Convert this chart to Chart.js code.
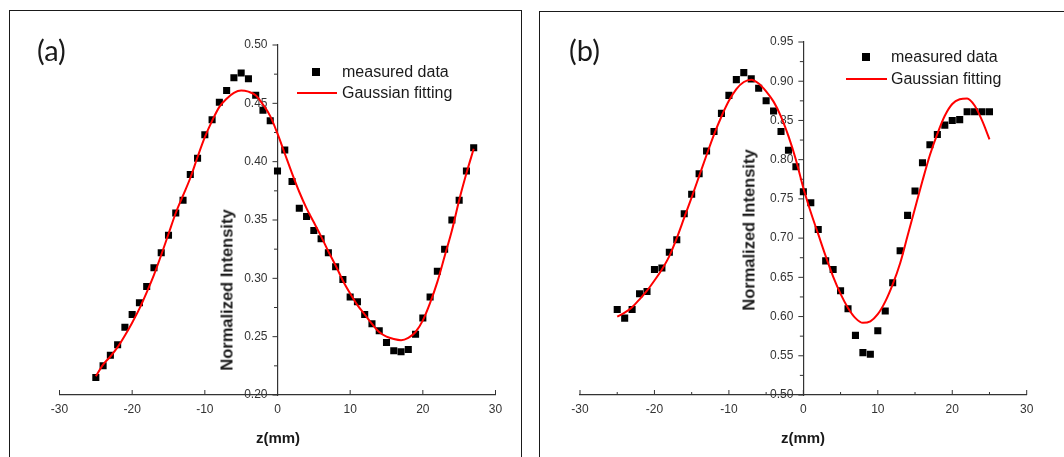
<!DOCTYPE html>
<html>
<head>
<meta charset="utf-8">
<script src="https://cdn.jsdelivr.net/npm/chart.js@4.4.1/dist/chart.umd.min.js"></script>
<style>
  body { margin: 0; background: #fff; }
  #wrap { position: relative; width: 1064px; height: 457px; overflow: hidden; font-family: "Liberation Sans", Arial, sans-serif; color: #1a1a1a; }
  .panel { position: absolute; border: 1.5px solid #1a1a1a; }
  canvas { position: absolute; top: 0; }
  .tag { position: absolute; font-family: Lato, "Open Sans", sans-serif; font-size: 29px; line-height: 1; }
  .ytitle { position: absolute; font-weight: bold; font-size: 16.5px; white-space: nowrap; transform: translate(-50%, -50%) rotate(-90deg); }
  .xtitle { position: absolute; font-weight: bold; font-size: 15px; white-space: nowrap; transform: translate(-50%, -50%); }
  .leg { position: absolute; font-size: 16px; line-height: 18px; white-space: nowrap; }
  .sq { position: absolute; width: 8px; height: 8px; background: #000; }
  .ln { position: absolute; height: 2px; background: #ff0000; }
</style>
</head>
<body>
<div id="wrap">
  <div class="panel" style="left:9px; top:10px; width:511px; height:470px;"></div>
  <div class="panel" style="left:539px; top:11px; width:560px; height:470px;"></div>

  <canvas id="chartA" width="532" height="457" style="left:0;"></canvas>
  <canvas id="chartB" width="532" height="457" style="left:532px;"></canvas>

  <div class="tag" style="left:37px; top:35px;">(a)</div>
  <div class="tag" style="left:569px; top:35px;">(b)</div>

  <div class="ytitle" style="left:227px; top:290px;">Normalized Intensity</div>
  <div class="ytitle" style="left:749px; top:230px;">Normalized Intensity</div>
  <div class="xtitle" style="left:278px; top:437px;">z(mm)</div>
  <div class="xtitle" style="left:803px; top:437px;">z(mm)</div>

  <!-- legends -->
  <div class="sq" style="left:312px; top:68px;"></div>
  <div class="leg" style="left:342px; top:63px;">measured data</div>
  <div class="ln" style="left:297px; top:92px; width:40px;"></div>
  <div class="leg" style="left:342px; top:84px;">Gaussian fitting</div>

  <div class="sq" style="left:862px; top:53px;"></div>
  <div class="leg" style="left:891px; top:48px;">measured data</div>
  <div class="ln" style="left:846px; top:78px; width:41px;"></div>
  <div class="leg" style="left:891px; top:70px;">Gaussian fitting</div>
</div>

<script>
// panel (a)
const zA = [-25, -24, -23, -22, -21, -20, -19, -18, -17, -16, -15, -14, -13, -12, -11, -10, -9, -8, -7, -6, -5, -4, -3, -2, -1,
  0, 1, 2, 3, 4, 5, 6, 7, 8, 9, 10, 11, 12, 13, 14, 15, 16, 17, 18, 19, 20, 21, 22, 23, 24, 25, 26, 27];
const measuredA = [0.215, 0.225, 0.234, 0.243, 0.258, 0.269, 0.279, 0.293, 0.309, 0.322, 0.337, 0.356, 0.367, 0.389, 0.403,
  0.423, 0.436, 0.451, 0.461, 0.472, 0.476, 0.471, 0.457, 0.444, 0.435, 0.392, 0.410, 0.383, 0.360, 0.353, 0.341, 0.334,
  0.322, 0.310, 0.299, 0.284, 0.280, 0.269, 0.261, 0.255, 0.245, 0.238, 0.237, 0.239, 0.252, 0.266, 0.284, 0.306, 0.325,
  0.350, 0.367, 0.392, 0.412];
const fitA = [0.216, 0.226, 0.233, 0.241, 0.251, 0.262, 0.274, 0.288, 0.303, 0.320, 0.338, 0.356, 0.371, 0.386, 0.404,
  0.421, 0.435, 0.447, 0.454, 0.459, 0.461, 0.460, 0.457, 0.449, 0.439, 0.424, 0.407, 0.390, 0.374, 0.360, 0.348, 0.336,
  0.323, 0.311, 0.298, 0.287, 0.277, 0.269, 0.261, 0.254, 0.250, 0.248, 0.247, 0.249, 0.254, 0.264, 0.279, 0.297, 0.319,
  0.341, 0.367, 0.390, 0.411];

// panel (b)
const zB = [-25, -24, -23, -22, -21, -20, -19, -18, -17, -16, -15, -14, -13, -12, -11, -10, -9, -8, -7, -6, -5, -4, -3, -2, -1,
  0, 1, 2, 3, 4, 5, 6, 7, 8, 9, 10, 11, 12, 13, 14, 15, 16, 17, 18, 19, 20, 21, 22, 23, 24, 25];
const measuredB = [0.609, 0.598, 0.609, 0.629, 0.632, 0.660, 0.662, 0.682, 0.698, 0.731, 0.756, 0.782, 0.811, 0.836, 0.859,
  0.882, 0.902, 0.911, 0.903, 0.891, 0.875, 0.862, 0.836, 0.812, 0.791, 0.759, 0.745, 0.711, 0.671, 0.660, 0.633, 0.610,
  0.576, 0.554, 0.552, 0.582, 0.607, 0.643, 0.684, 0.729, 0.760, 0.796, 0.819, 0.832, 0.844, 0.850, 0.851, 0.861, 0.861,
  0.861, 0.861];
const fitB = [0.600, 0.605, 0.612, 0.622, 0.633, 0.646, 0.660, 0.677, 0.700, 0.726, 0.752, 0.779, 0.806, 0.832, 0.855,
  0.875, 0.890, 0.899, 0.902, 0.897, 0.887, 0.874, 0.855, 0.830, 0.800, 0.764, 0.733, 0.705, 0.677, 0.651, 0.629, 0.611,
  0.598, 0.592, 0.594, 0.603, 0.619, 0.641, 0.668, 0.703, 0.738, 0.773, 0.806, 0.833, 0.856, 0.871, 0.877, 0.878, 0.869,
  0.850, 0.826];

// axis ranges and tick positions
const xRange = [-30, 30];
const yRangeA = [0.20, 0.50];
const yRangeB = [0.50, 0.95];
const yMinorA = [0.225, 0.275, 0.325, 0.375, 0.425, 0.475];
const yMinorB = [0.525, 0.575, 0.625, 0.675, 0.725, 0.775, 0.825, 0.875, 0.925];
const xMinorB = [-25, -15, -5, 5, 15, 25];

const toPoints = (xs, ys) => xs.map((x, i) => ({ x: x, y: ys[i] }));

// inward tick marks, minor ticks and y labels next to the centred y axis
const axisDecor = {
  id: 'axisDecor',
  beforeDatasetsDraw(chart, args, opts) {
    const ctx = chart.ctx;
    const xs = chart.scales.x;
    const ys = chart.scales.y;
    const axisX = xs.getPixelForValue(0);
    const axisY = ys.getPixelForValue(ys.min);
    ctx.save();
    ctx.strokeStyle = '#333';
    ctx.lineWidth = 1;
    ctx.beginPath();
    xs.ticks.forEach(t => {
      const p = xs.getPixelForValue(t.value);
      ctx.moveTo(p, axisY); ctx.lineTo(p, axisY - 5);
    });
    (opts.xMinor || []).forEach(v => {
      const p = xs.getPixelForValue(v);
      ctx.moveTo(p, axisY); ctx.lineTo(p, axisY - 3);
    });
    ys.ticks.forEach(t => {
      const p = ys.getPixelForValue(t.value);
      ctx.moveTo(axisX, p); ctx.lineTo(axisX - 5, p);
    });
    (opts.yMinor || []).forEach(v => {
      const p = ys.getPixelForValue(v);
      ctx.moveTo(axisX, p); ctx.lineTo(axisX - 3.5, p);
    });
    ctx.stroke();

    ctx.fillStyle = '#333';
    ctx.font = '12px "Liberation Sans", Arial, sans-serif';
    ctx.textAlign = 'right';
    ctx.textBaseline = 'middle';
    ys.ticks.forEach(t => {
      ctx.fillText(t.value.toFixed(2), axisX - 10, ys.getPixelForValue(t.value));
    });
    ctx.restore();
  }
};

function makeChart(id, z, measured, fit, yRange, yMinor, xMinor, padding) {
  return new Chart(document.getElementById(id), {
    type: 'scatter',
    data: {
      datasets: [
        {
          type: 'line',
          label: 'Gaussian fitting',
          data: toPoints(z, fit),
          borderColor: '#ff0000',
          borderWidth: 2,
          pointRadius: 0,
          fill: false,
          cubicInterpolationMode: 'monotone'
        },
        {
          label: 'measured data',
          data: toPoints(z, measured),
          pointStyle: 'rect',
          pointRadius: 5,
          backgroundColor: '#000',
          borderColor: '#000',
          borderWidth: 0
        }
      ]
    },
    options: {
      responsive: false,
      animation: false,
      devicePixelRatio: 1,
      layout: { padding: padding },
      plugins: {
        legend: { display: false },
        tooltip: { enabled: false },
        axisDecor: { yMinor: yMinor, xMinor: xMinor }
      },
      scales: {
        x: {
          type: 'linear',
          position: { y: yRange[0] },
          min: xRange[0], max: xRange[1],
          grid: { drawOnChartArea: false, drawTicks: false },
          border: { color: '#333', width: 1.2 },
          ticks: { stepSize: 10, padding: 7, color: '#333', maxRotation: 0, autoSkip: false,
                   font: { family: '"Liberation Sans", Arial, sans-serif', size: 12 } }
        },
        y: {
          type: 'linear',
          position: { x: 0 },
          min: yRange[0], max: yRange[1],
          grid: { drawOnChartArea: false, drawTicks: false },
          border: { color: '#333', width: 1.2 },
          ticks: { stepSize: 0.05, display: false }
        }
      }
    },
    plugins: [axisDecor]
  });
}

makeChart('chartA', zA, measuredA, fitA, yRangeA, yMinorA, [],
  { left: 59.5, right: 36.5, top: 45, bottom: 62 });
makeChart('chartB', zB, measuredB, fitB, yRangeB, yMinorB, xMinorB,
  { left: 48, right: 37.3, top: 42, bottom: 62 });
</script>
</body>
</html>
